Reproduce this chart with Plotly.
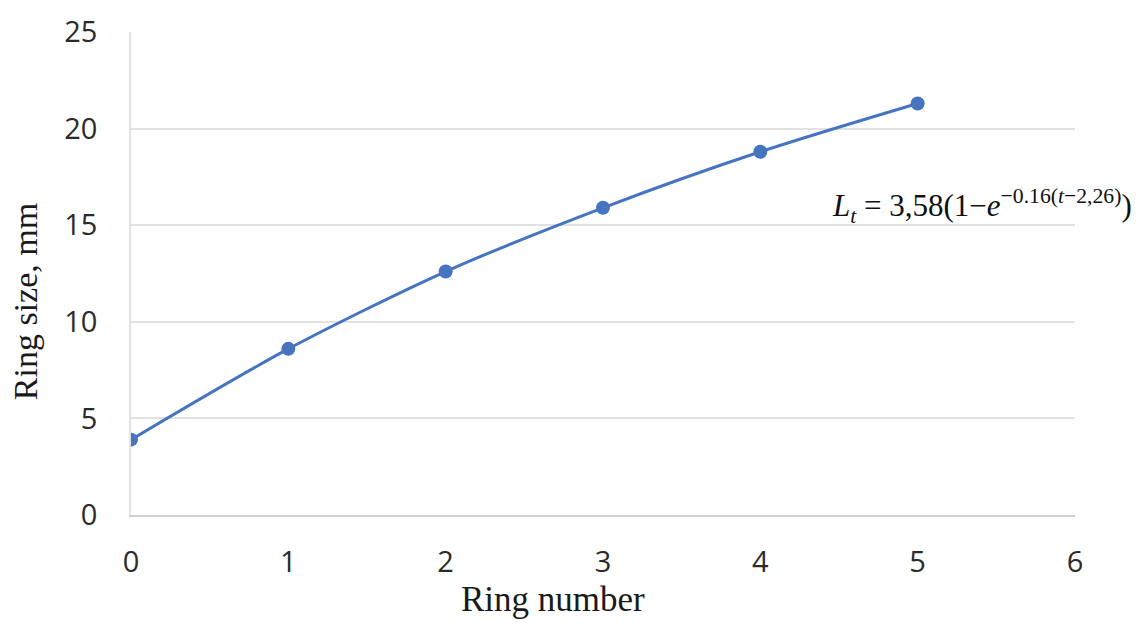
import plotly.graph_objects as go

ring_number = [0, 1, 2, 3, 4, 5]
ring_size = [3.9, 8.6, 12.6, 15.9, 18.8, 21.3]
x_ticks = [0, 1, 2, 3, 4, 5, 6]
y_ticks = [0, 5, 10, 15, 20, 25]

color = "#4674BE"

fig = go.Figure()
fig.add_trace(go.Scatter(
    x=ring_number, y=ring_size, mode="lines+markers",
    line=dict(color=color, width=3, shape="spline", smoothing=0.8),
    marker=dict(color=color, size=14),
    showlegend=False, hoverinfo="skip",
))

tick_font = dict(family="Open Sans", size=29, color="#2b2b2b")
serif = "Liberation Serif"

fig.update_layout(
    width=1141, height=631,
    margin=dict(l=131, r=66, t=32, b=116),
    paper_bgcolor="white", plot_bgcolor="white",
    xaxis=dict(range=[0, 6], tickvals=x_ticks, showgrid=False, zeroline=False,
               showline=True, linecolor="#d0d0d0", linewidth=2,
               tickfont=tick_font, ticks="", ticklabelstandoff=20),
    yaxis=dict(range=[0, 25], tickvals=y_ticks, showgrid=True, gridcolor="#e2e2e2",
               gridwidth=1.5, zeroline=False, showline=True, linecolor="#e2e2e2",
               linewidth=1.5, tickfont=tick_font, ticks="", ticklabelstandoff=26),
)

fig.add_annotation(
    text="Ring number", xref="x", yref="paper", x=2.68, y=-0.175,
    xanchor="center", yanchor="middle", showarrow=False,
    font=dict(family=serif, size=35, color="#1a1a1a"),
)
fig.add_annotation(
    text="Ring size, mm", xref="paper", yref="paper", x=-0.111, y=0.441,
    xanchor="center", yanchor="middle", showarrow=False, textangle=-90,
    font=dict(family=serif, size=34, color="#1a1a1a"),
)
fig.add_annotation(
    text="<i>L<sub>t</sub></i> = 3,58(1−<i>e</i><sup>−0.16(<i>t</i>−2,26)</sup>)",
    xref="x", yref="y", x=4.44, y=16.0, xanchor="left", yanchor="middle",
    showarrow=False, font=dict(family=serif, size=31, color="#111111"),
)

fig.write_html("out.html")
